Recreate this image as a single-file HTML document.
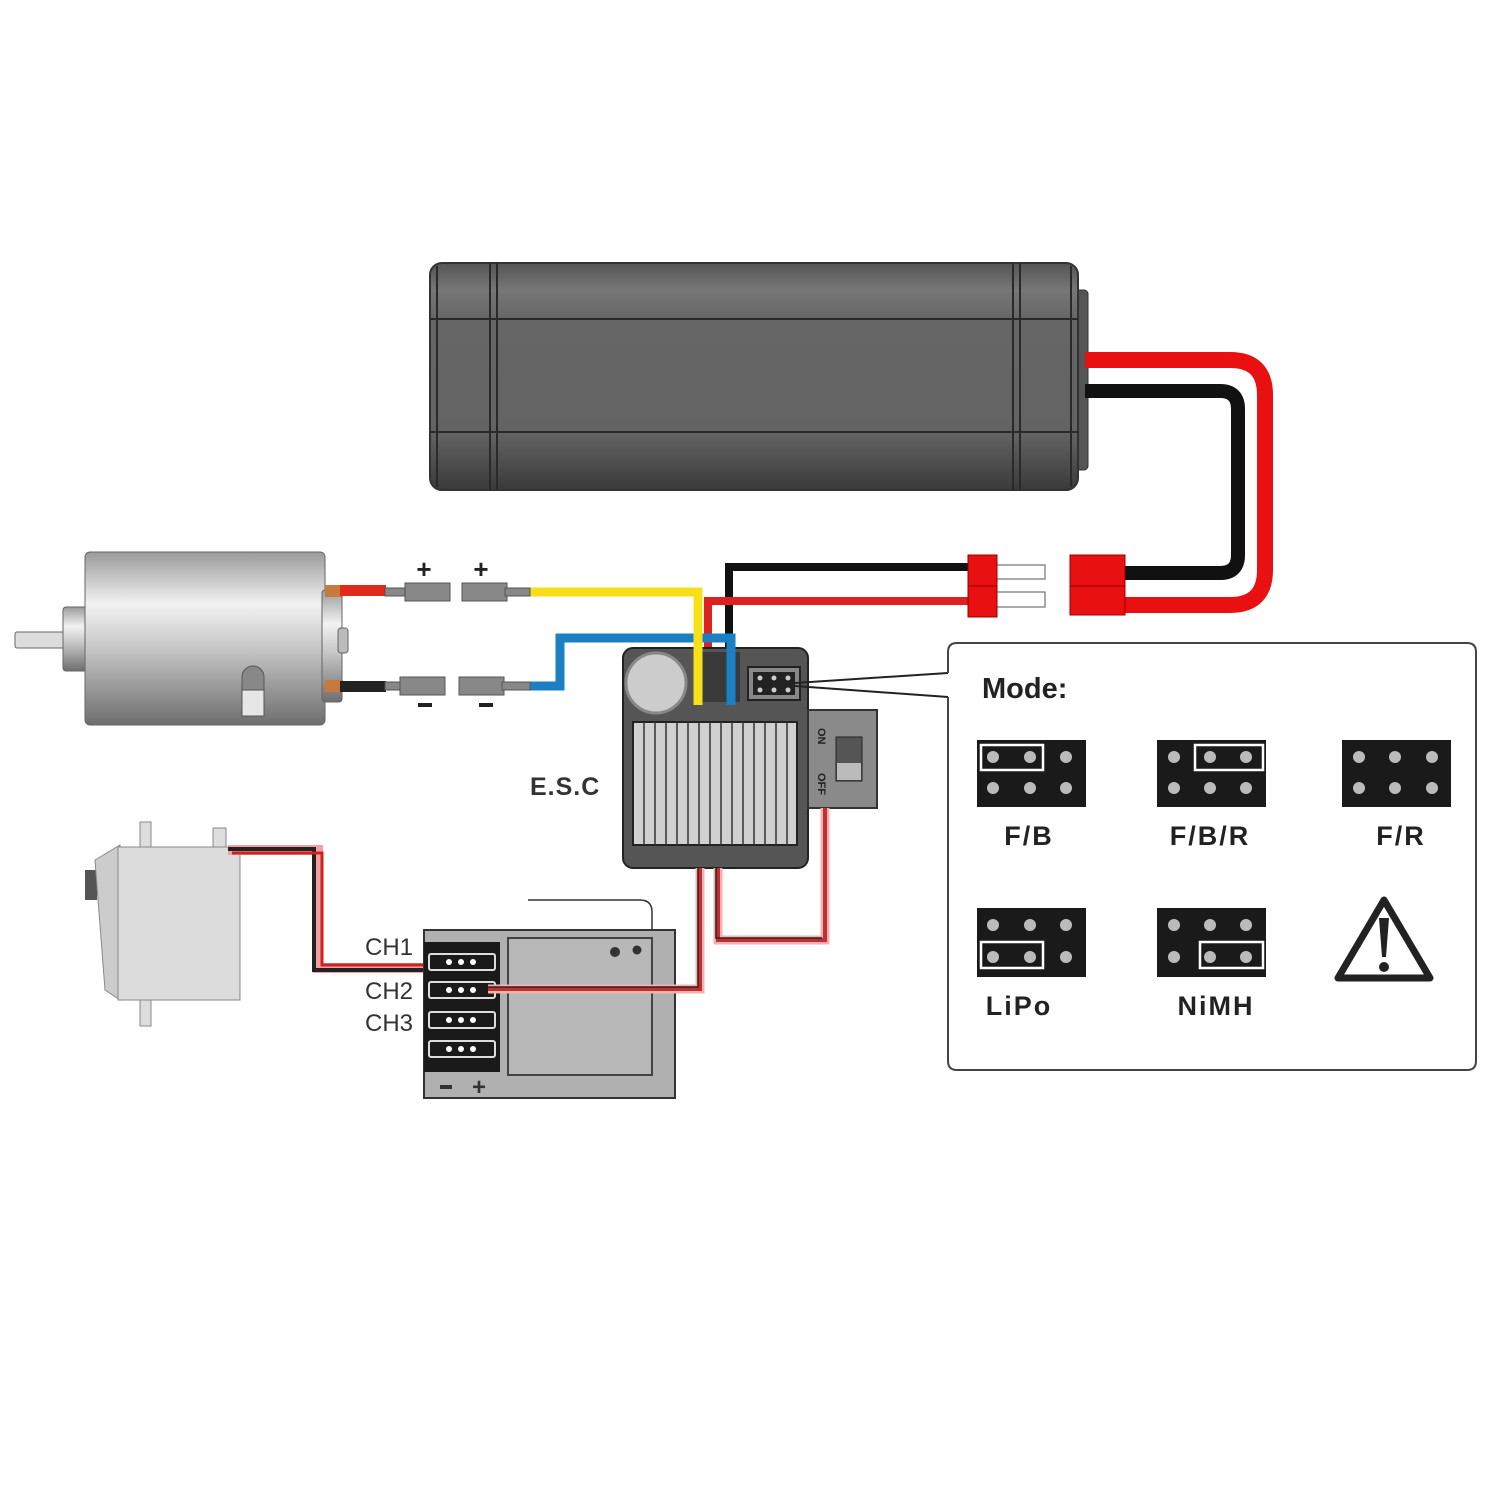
<!DOCTYPE html>
<html><head><meta charset="utf-8"><style>
html,body{margin:0;padding:0;background:#fff;}
svg{display:block;}
text{font-family:"Liberation Sans",sans-serif;}
</style></head><body>
<svg width="1500" height="1500" viewBox="0 0 1500 1500" xmlns="http://www.w3.org/2000/svg">
<defs>
<linearGradient id="bat" x1="0" y1="0" x2="0" y2="1">
<stop offset="0" stop-color="#555"/><stop offset="0.12" stop-color="#777"/><stop offset="0.25" stop-color="#666"/><stop offset="0.75" stop-color="#636363"/><stop offset="1" stop-color="#3a3a3a"/>
</linearGradient>
<linearGradient id="mot" x1="0" y1="0" x2="0" y2="1">
<stop offset="0" stop-color="#9a9a9a"/><stop offset="0.3" stop-color="#f2f2f2"/><stop offset="0.55" stop-color="#c8c8c8"/><stop offset="1" stop-color="#6e6e6e"/>
</linearGradient>
</defs>

<rect x="1070" y="290" width="18" height="180" rx="4" fill="#555" stroke="#333"/>
<rect x="430" y="263" width="648" height="227" rx="12" fill="url(#bat)" stroke="#333" stroke-width="2"/>
<line x1="430" y1="319" x2="1078" y2="319" stroke="#2a2a2a" stroke-width="2"/>
<line x1="430" y1="432" x2="1078" y2="432" stroke="#2a2a2a" stroke-width="2"/>
<line x1="437" y1="266" x2="437" y2="487" stroke="#2a2a2a" stroke-width="2"/>
<line x1="490" y1="263" x2="490" y2="490" stroke="#2a2a2a" stroke-width="2"/>
<line x1="497" y1="263" x2="497" y2="490" stroke="#2a2a2a" stroke-width="2"/>
<line x1="1013" y1="263" x2="1013" y2="490" stroke="#2a2a2a" stroke-width="2"/>
<line x1="1020" y1="263" x2="1020" y2="490" stroke="#2a2a2a" stroke-width="2"/>
<line x1="1071" y1="266" x2="1071" y2="487" stroke="#2a2a2a" stroke-width="2"/>

<path d="M1085 360 H1230 Q1265 360 1265 395 V570 Q1265 605 1230 605 H1120" fill="none" stroke="#e81010" stroke-width="16"/>
<path d="M1085 391 H1220 Q1238 391 1238 409 V555 Q1238 573 1220 573 H1120" fill="none" stroke="#111" stroke-width="14"/>
<rect x="1070" y="555" width="55" height="60" fill="#e81010" stroke="#900"/>
<line x1="1070" y1="586" x2="1125" y2="586" stroke="#900"/>

<path d="M968 567 H729 V700" fill="none" stroke="#111" stroke-width="8"/>
<path d="M968 601 H708 V690" fill="none" stroke="#dd2020" stroke-width="8"/>
<rect x="997" y="565" width="48" height="14" fill="#fff" stroke="#555"/>
<rect x="997" y="592" width="48" height="15" fill="#fff" stroke="#555"/>
<rect x="968" y="555" width="29" height="62" fill="#e81010" stroke="#900"/>
<line x1="968" y1="586" x2="997" y2="586" stroke="#900"/>

<path d="M530 592 H698 V705" fill="none" stroke="#f7e01a" stroke-width="9"/>
<path d="M530 686 H560 V638 H731 V705" fill="none" stroke="#1b7fc4" stroke-width="9"/>

<rect x="15" y="632" width="50" height="16" rx="2" fill="#ddd" stroke="#666"/>
<rect x="63" y="607" width="26" height="64" rx="3" fill="url(#mot)" stroke="#666"/>
<rect x="85" y="552" width="240" height="173" rx="5" fill="url(#mot)" stroke="#666"/>
<rect x="322" y="590" width="20" height="112" rx="3" fill="url(#mot)" stroke="#666"/>
<rect x="338" y="628" width="10" height="25" rx="3" fill="#bbb" stroke="#666"/>
<rect x="242" y="666" width="22" height="50" rx="11" fill="#888" stroke="#555"/>
<rect x="242" y="690" width="22" height="26" fill="#e6e6e6" stroke="#555"/>
<rect x="325" y="585" width="18" height="12" fill="#c87a3c"/>
<rect x="325" y="680" width="18" height="12" fill="#c87a3c"/>
<rect x="340" y="585" width="46" height="11" fill="#e02a1a"/>
<rect x="340" y="681" width="46" height="11" fill="#222"/>
<g fill="#888" stroke="#555">
<rect x="385" y="588" width="22" height="8"/><rect x="405" y="583" width="45" height="18"/>
<rect x="462" y="583" width="45" height="18"/><rect x="505" y="588" width="25" height="8"/>
<rect x="385" y="682" width="22" height="8"/><rect x="400" y="677" width="45" height="18"/>
<rect x="459" y="677" width="45" height="18"/><rect x="502" y="682" width="28" height="8"/>
</g>
<text x="424" y="578" font-size="26" font-weight="bold" text-anchor="middle" fill="#222">+</text>
<text x="481" y="578" font-size="26" font-weight="bold" text-anchor="middle" fill="#222">+</text>
<rect x="418" y="703" width="14" height="4" fill="#222"/>
<rect x="479" y="703" width="14" height="4" fill="#222"/>

<rect x="623" y="648" width="185" height="220" rx="10" fill="#555" stroke="#222" stroke-width="2"/>
<circle cx="656" cy="683" r="30" fill="#ccc" stroke="#888" stroke-width="3"/>
<rect x="695" y="652" width="45" height="50" fill="#3a3a3a"/>
<path d="M698 592 V705" stroke="#f7e01a" stroke-width="9"/>
<path d="M731 638 V705" stroke="#1b7fc4" stroke-width="9"/>
<rect x="748" y="667" width="52" height="33" fill="#888" stroke="#222" stroke-width="2"/>
<rect x="753" y="672" width="42" height="23" fill="#222"/>
<g fill="#ccc"><circle cx="760" cy="678" r="2.5"/><circle cx="774" cy="678" r="2.5"/><circle cx="788" cy="678" r="2.5"/><circle cx="760" cy="690" r="2.5"/><circle cx="774" cy="690" r="2.5"/><circle cx="788" cy="690" r="2.5"/></g>
<rect x="633" y="722" width="164" height="123" fill="#d0d0d0" stroke="#222" stroke-width="2"/>
<g stroke="#333" stroke-width="1.5">
<line x1="644" y1="722" x2="644" y2="845"/><line x1="655" y1="722" x2="655" y2="845"/><line x1="666" y1="722" x2="666" y2="845"/><line x1="677" y1="722" x2="677" y2="845"/><line x1="688" y1="722" x2="688" y2="845"/><line x1="699" y1="722" x2="699" y2="845"/><line x1="710" y1="722" x2="710" y2="845"/><line x1="721" y1="722" x2="721" y2="845"/><line x1="732" y1="722" x2="732" y2="845"/><line x1="743" y1="722" x2="743" y2="845"/><line x1="754" y1="722" x2="754" y2="845"/><line x1="765" y1="722" x2="765" y2="845"/><line x1="776" y1="722" x2="776" y2="845"/><line x1="787" y1="722" x2="787" y2="845"/>
</g>
<rect x="808" y="710" width="69" height="98" fill="#8a8a8a" stroke="#333" stroke-width="2"/>
<rect x="836" y="737" width="26" height="44" fill="#555" stroke="#222"/>
<rect x="837" y="763" width="24" height="17" fill="#bbb"/>
<text transform="translate(818,728) rotate(90)" font-size="11" font-weight="bold" fill="#222">ON</text>
<text transform="translate(818,773) rotate(90)" font-size="11" font-weight="bold" fill="#222">OFF</text>
<text x="530" y="795" font-size="25" font-weight="bold" fill="#333" letter-spacing="1">E.S.C</text>

<line x1="795" y1="683" x2="948" y2="673" stroke="#222" stroke-width="2"/>
<line x1="795" y1="686" x2="948" y2="697" stroke="#222" stroke-width="2"/>

<path d="M718 868 V940 H825 V808" fill="none" stroke="#f4b0b0" stroke-width="9"/>
<path d="M718 868 V940 H825 V808" fill="none" stroke="#c03030" stroke-width="4"/>
<path d="M716 868 V938 H822" fill="none" stroke="#222" stroke-width="1.5"/>

<rect x="140" y="822" width="11" height="26" fill="#ddd" stroke="#888"/>
<rect x="213" y="828" width="13" height="20" fill="#ddd" stroke="#888"/>
<rect x="140" y="998" width="11" height="28" fill="#ddd" stroke="#888"/>
<rect x="85" y="870" width="12" height="30" fill="#555"/>
<path d="M95 860 L120 845 V1000 L105 990 Z" fill="#ccc" stroke="#888"/>
<rect x="118" y="847" width="122" height="153" fill="#dcdcdc" stroke="#888"/>
<path d="M228 850 H318 V968 H425" fill="none" stroke="#f0a0a0" stroke-width="10"/>
<path d="M228 849 H314 V970 H425" fill="none" stroke="#222" stroke-width="4"/>
<path d="M232 853 H322 V965 H425" fill="none" stroke="#d02020" stroke-width="3"/>

<path d="M528 900 H640 Q652 900 652 912 V930" fill="none" stroke="#333" stroke-width="1.5"/>
<rect x="424" y="930" width="251" height="168" fill="#b0b0b0" stroke="#333" stroke-width="2"/>
<rect x="508" y="938" width="144" height="137" fill="#b8b8b8" stroke="#444" stroke-width="2"/>
<rect x="424" y="942" width="76" height="130" fill="#1a1a1a"/>
<g fill="#1a1a1a" stroke="#ddd" stroke-width="2">
<rect x="429" y="954" width="66" height="16" rx="2"/>
<rect x="429" y="982" width="66" height="16" rx="2"/>
<rect x="429" y="1012" width="66" height="16" rx="2"/>
<rect x="429" y="1041" width="66" height="16" rx="2"/>
</g>
<g fill="#fff">
<circle cx="449" cy="962" r="3"/><circle cx="461" cy="962" r="3"/><circle cx="473" cy="962" r="3"/>
<circle cx="449" cy="990" r="3"/><circle cx="461" cy="990" r="3"/><circle cx="473" cy="990" r="3"/>
<circle cx="449" cy="1020" r="3"/><circle cx="461" cy="1020" r="3"/><circle cx="473" cy="1020" r="3"/>
<circle cx="449" cy="1049" r="3"/><circle cx="461" cy="1049" r="3"/><circle cx="473" cy="1049" r="3"/>
</g>
<path d="M488 989 H700 V868" fill="none" stroke="#f4b0b0" stroke-width="9"/>
<path d="M488 989 H700 V868" fill="none" stroke="#c03030" stroke-width="4"/>
<path d="M488 987 H698 V868" fill="none" stroke="#222" stroke-width="1.5"/>
<circle cx="615" cy="952" r="5" fill="#333"/><circle cx="637" cy="950" r="4.5" fill="#333"/>
<text x="413" y="955" font-size="24" text-anchor="end" fill="#333">CH1</text>
<text x="413" y="999" font-size="24" text-anchor="end" fill="#333">CH2</text>
<text x="413" y="1031" font-size="24" text-anchor="end" fill="#333">CH3</text>
<rect x="440" y="1085" width="12" height="4" fill="#333"/>
<text x="479" y="1095" font-size="24" font-weight="bold" text-anchor="middle" fill="#333">+</text>

<path d="M948 673 V652 Q948 643 957 643 H1467 Q1476 643 1476 652 V1061 Q1476 1070 1467 1070 H957 Q948 1070 948 1061 V697" fill="#fff" stroke="#444" stroke-width="2"/>
<text x="982" y="698" font-size="29" font-weight="bold" fill="#222">Mode:</text>

<g>
<rect x="977" y="740" width="109" height="67" fill="#1a1a1a"/>
<rect x="1157" y="740" width="109" height="67" fill="#1a1a1a"/>
<rect x="1342" y="740" width="109" height="67" fill="#1a1a1a"/>
<rect x="977" y="908" width="109" height="69" fill="#1a1a1a"/>
<rect x="1157" y="908" width="109" height="69" fill="#1a1a1a"/>
</g>
<g fill="none" stroke="#fff" stroke-width="2.5">
<rect x="981" y="745" width="62" height="25"/>
<rect x="1195" y="745" width="68" height="25"/>
<rect x="981" y="942" width="62" height="26"/>
<rect x="1200" y="942" width="63" height="26"/>
</g>
<g fill="#bbb">
<circle cx="993" cy="757" r="6"/><circle cx="1030" cy="757" r="6"/><circle cx="1066" cy="757" r="6"/>
<circle cx="993" cy="788" r="6"/><circle cx="1030" cy="788" r="6"/><circle cx="1066" cy="788" r="6"/>
<circle cx="1174" cy="757" r="6"/><circle cx="1210" cy="757" r="6"/><circle cx="1246" cy="757" r="6"/>
<circle cx="1174" cy="788" r="6"/><circle cx="1210" cy="788" r="6"/><circle cx="1246" cy="788" r="6"/>
<circle cx="1359" cy="757" r="6"/><circle cx="1395" cy="757" r="6"/><circle cx="1432" cy="757" r="6"/>
<circle cx="1359" cy="788" r="6"/><circle cx="1395" cy="788" r="6"/><circle cx="1432" cy="788" r="6"/>
<circle cx="993" cy="925" r="6"/><circle cx="1030" cy="925" r="6"/><circle cx="1066" cy="925" r="6"/>
<circle cx="993" cy="957" r="6"/><circle cx="1030" cy="957" r="6"/><circle cx="1066" cy="957" r="6"/>
<circle cx="1174" cy="925" r="6"/><circle cx="1210" cy="925" r="6"/><circle cx="1246" cy="925" r="6"/>
<circle cx="1174" cy="957" r="6"/><circle cx="1210" cy="957" r="6"/><circle cx="1246" cy="957" r="6"/>
</g>
<g font-size="27" font-weight="bold" fill="#222" text-anchor="middle" letter-spacing="2">
<text x="1029" y="845">F/B</text>
<text x="1210" y="845">F/B/R</text>
<text x="1401" y="845">F/R</text>
<text x="1019" y="1015">LiPo</text>
<text x="1216" y="1015">NiMH</text>
</g>
<path d="M1384 900 L1430 978 H1338 Z" fill="#fff" stroke="#222" stroke-width="7" stroke-linejoin="round"/>
<path d="M1379 918 H1389 L1386 957 H1382 Z" fill="#222"/>
<circle cx="1384" cy="967" r="5" fill="#222"/>
</svg>
</body></html>
